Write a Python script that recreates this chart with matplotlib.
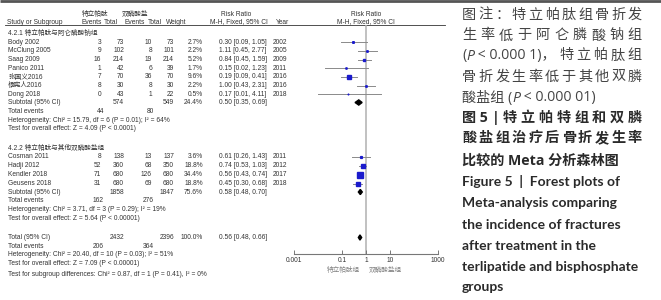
import matplotlib
matplotlib.use("Agg")
import matplotlib.pyplot as plt
import numpy as np

plt.rcParams['font.family'] = ['Liberation Sans', 'Noto Sans CJK SC']

# ---- data ----
group_titles = ['4.2.1 特立帕肽与阿仑膦酸钠组', '4.2.2 特立帕肽与其他双膦酸盐组']
studies = ['Body 2002', 'McClung 2005', 'Saag 2009', 'Panico 2011', '张国义2016',
           '杨宪人2016', 'Dong 2018', 'Cosman 2011', 'Hadji 2012', 'Kendler 2018',
           'Geusens 2018']
ev_tp = [3, 9, 16, 1, 7, 8, 0, 8, 52, 71, 31]
n_tp = [73, 102, 214, 42, 70, 30, 43, 138, 360, 680, 680]
ev_bp = [10, 8, 19, 6, 36, 8, 1, 13, 68, 126, 69]
n_bp = [73, 101, 214, 39, 70, 30, 22, 137, 350, 680, 680]
weight = [2.7, 2.2, 5.2, 1.7, 9.6, 2.2, 0.5, 3.6, 18.8, 34.4, 18.8]
rr = [0.30, 1.11, 0.84, 0.15, 0.19, 1.00, 0.17, 0.61, 0.74, 0.56, 0.45]
rr_lo = [0.09, 0.45, 0.45, 0.02, 0.09, 0.43, 0.01, 0.26, 0.53, 0.43, 0.30]
rr_hi = [1.05, 2.77, 1.59, 1.23, 0.41, 2.31, 4.11, 1.43, 1.03, 0.74, 0.68]
years = [2002, 2005, 2009, 2011, 2016, 2016, 2018, 2011, 2012, 2017, 2018]

pooled_names = ['Subtotal (95% CI)', 'Subtotal (95% CI)', 'Total (95% CI)']
pooled_n_tp = [574, 1858, 2432]
pooled_n_bp = [549, 1847, 2396]
pooled_weight = [24.4, 75.6, 100.0]
pooled_rr = [0.50, 0.58, 0.56]
pooled_lo = [0.35, 0.48, 0.48]
pooled_hi = [0.69, 0.70, 0.66]
pooled_ev_tp = [44, 162, 206]
pooled_ev_bp = [80, 276, 364]
heterogeneity = ['Heterogeneity: Chi² = 15.79, df = 6 (P = 0.01); I² = 64%',
                 'Heterogeneity: Chi² = 3.71, df = 3 (P = 0.29); I² = 19%',
                 'Heterogeneity: Chi² = 20.40, df = 10 (P = 0.03); I² = 51%']
overall = ['Test for overall effect: Z = 4.09 (P < 0.0001)',
           'Test for overall effect: Z = 5.64 (P < 0.00001)',
           'Test for overall effect: Z = 7.09 (P < 0.00001)']
subgroup_test = 'Test for subgroup differences: Chi² = 0.87, df = 1 (P = 0.41), I² = 0%'
ticks = [0.001, 0.1, 1, 10, 1000]
tick_labels = ['0.001', '0.1', '1', '10', '1000']
favours = ['特立帕肽组', '双膦酸盐组']

# ---- layout (pixel rows / columns) ----
group_y = [33, 148]
study_y = [42, 51, 59.5, 68, 77, 85.5, 94, 157, 165.5, 174.5, 183.5]
pooled_y = [102.5, 192, 237.5]
col = dict(name=8, ev1=101, n1=124, ev2=152, n2=174, w=203, rr=219, yr=273)
fs = 4.8
tc = '#333333'

fig = plt.figure(figsize=(6.61, 3.0), dpi=100)
bg = fig.add_axes([0, 0, 1, 1])
bg.set_xlim(0, 661)
bg.set_ylim(300, 0)
bg.axis('off')

bg.plot([0, 661], [1.3, 1.3], color='#555555', lw=2.0, solid_capstyle='butt')

# headers
for txt, x in [('特立帕肽', 95), ('双膦酸盐', 135), ('Risk Ratio', 236), ('Risk Ratio', 366)]:
    bg.text(x, 14, txt, ha='center', va='center', fontsize=fs, color=tc)
for txt, x, ha in [('Study or Subgroup', 7, 'left'), ('Events', 92, 'center'),
                   ('Total', 111, 'center'), ('Events', 135, 'center'),
                   ('Total', 155, 'center'), ('Weight', 176, 'center'),
                   ('M-H, Fixed, 95% CI', 210, 'left'), ('Year', 276, 'left'),
                   ('M-H, Fixed, 95% CI', 366, 'center')]:
    bg.text(x, 22, txt, ha=ha, va='center', fontsize=fs, color=tc)
bg.plot([5, 445], [24.8, 24.8], color='#333333', lw=0.6)

for t, y in zip(group_titles, group_y):
    bg.text(col['name'], y, t, va='center', fontsize=fs, color=tc)

for i, y in enumerate(study_y):
    bg.text(col['name'], y, studies[i], va='center', fontsize=fs, color=tc)
    bg.text(col['ev1'], y, str(ev_tp[i]), ha='right', va='center', fontsize=fs, color=tc)
    bg.text(col['n1'], y, str(n_tp[i]), ha='right', va='center', fontsize=fs, color=tc)
    bg.text(col['ev2'], y, str(ev_bp[i]), ha='right', va='center', fontsize=fs, color=tc)
    bg.text(col['n2'], y, str(n_bp[i]), ha='right', va='center', fontsize=fs, color=tc)
    bg.text(col['w'], y, f'{weight[i]:.1f}%', ha='right', va='center', fontsize=fs, color=tc)
    bg.text(col['rr'], y, f'{rr[i]:.2f} [{rr_lo[i]:.2f}, {rr_hi[i]:.2f}]',
            va='center', fontsize=fs, color=tc)
    bg.text(col['yr'], y, str(years[i]), va='center', fontsize=fs, color=tc)

for k, y in enumerate(pooled_y):
    bg.text(col['name'], y, pooled_names[k], va='center', fontsize=fs, color=tc)
    bg.text(col['n1'], y, str(pooled_n_tp[k]), ha='right', va='center', fontsize=fs, color=tc)
    bg.text(col['n2'], y, str(pooled_n_bp[k]), ha='right', va='center', fontsize=fs, color=tc)
    bg.text(col['w'], y, f'{pooled_weight[k]:.1f}%', ha='right', va='center', fontsize=fs, color=tc)
    bg.text(col['rr'], y, f'{pooled_rr[k]:.2f} [{pooled_lo[k]:.2f}, {pooled_hi[k]:.2f}]',
            va='center', fontsize=fs, color=tc)
    bg.text(col['name'], y + 8.7, 'Total events', va='center', fontsize=fs, color=tc)
    bg.text(col['ev1'] + 3, y + 8.7, str(pooled_ev_tp[k]), ha='right', va='center', fontsize=fs, color=tc)
    bg.text(col['ev2'] + 2, y + 8.7, str(pooled_ev_bp[k]), ha='right', va='center', fontsize=fs, color=tc)
    bg.text(col['name'], y + 17.5, heterogeneity[k], va='center', fontsize=fs, color=tc)
    bg.text(col['name'], y + 26.3, overall[k], va='center', fontsize=fs, color=tc)
bg.text(col['name'], pooled_y[2] + 37, subgroup_test, va='center', fontsize=fs, color=tc)

# forest panel: log x, y in the same pixel rows
fa = fig.add_axes([294 / 661, 1 - 254 / 300, (438 - 294) / 661, (254 - 25) / 300])
fa.set_xscale('log')
fa.set_xlim(0.001, 1000)
fa.set_ylim(254, 25)
fa.patch.set_alpha(0)
for s in ['top', 'left', 'right']:
    fa.spines[s].set_visible(False)
fa.spines['bottom'].set_color('#777777')
fa.spines['bottom'].set_linewidth(0.8)
fa.set_yticks([])
fa.set_xticks(ticks)
fa.set_xticklabels(tick_labels)
fa.minorticks_off()
fa.tick_params(axis='x', direction='in', length=3, width=0.7, color='#777777',
               labelsize=fs, labelcolor=tc, pad=2.5)
fa.axvline(1, color='#b0b0b0', lw=1.1, zorder=1)

for i, y in enumerate(study_y):
    fa.plot([rr_lo[i], rr_hi[i]], [y, y], color='#8a8a8a', lw=0.7, zorder=2)
    fa.plot(rr[i], y, marker='s', ms=0.97 * np.sqrt(weight[i]) * 0.72,
            color='#1a1acc', mec='#1a1acc', zorder=3)

for k, y in enumerate(pooled_y):
    fa.fill([pooled_lo[k], pooled_rr[k], pooled_hi[k], pooled_rr[k]],
            [y, y - 2.6, y, y + 2.6], color='black', zorder=3)

fa.text(0.55, 270, favours[0], ha='right', va='center', fontsize=fs, color='#808080',
        clip_on=False)
fa.text(1.25, 270, favours[1], ha='left', va='center', fontsize=fs, color='#808080',
        clip_on=False)

# caption on the right
renderer = fig.canvas.get_renderer()
cap_family = ['Open Sans', 'Noto Sans CJK SC']


def caption_line(tokens, y, spread=True, x0=462, x1=642, **kw):
    # each token is a string or a list of (text, extra style) pieces kept together
    units = []
    for tok in tokens:
        pieces = [(tok, {})] if isinstance(tok, str) else tok
        items = []
        for txt, extra in pieces:
            style = dict(kw)
            style.update(extra)
            items.append(bg.text(x0, y, txt, va='center', ha='left',
                                 family=cap_family, **style))
        units.append(items)
    widths = [[it.get_window_extent(renderer).width for it in u] for u in units]
    total = sum(sum(w) for w in widths)
    gap = (x1 - x0 - total) / (len(units) - 1) if spread and len(units) > 1 else 0
    x = x0
    for u, ws in zip(units, widths):
        for it, w in zip(u, ws):
            it.set_x(x)
            x += w
        x += gap


reg = dict(fontsize=10.2, color='#444444')
bold = dict(fontsize=10.2, color='#2a2a2a', fontweight='bold')
ital = {'style': 'italic'}
caption_line(list('图注：特立帕肽组骨折发'), 15, **reg)
caption_line(list('生率低于阿仑膦酸钠组'), 36, **reg)
caption_line([[('(', {}), ('P', ital), (' < 0.000 1)，', {})]] + list('特立帕肽组'), 56, **reg)
caption_line(list('骨折发生率低于其他双膦'), 77, **reg)
caption_line([[('酸盐组 (', {}), ('P', ital), (' < 0.000 01)', {})]], 98, spread=False, **reg)
caption_line(['图 5', '|'] + list('特立帕特组和双膦'), 118, **bold)
caption_line(list('酸盐组治疗后骨折发生率'), 138, **bold)
caption_line(['比较的 Meta 分析森林图'], 161, spread=False, **bold)
for line, y in zip(['Figure 5  |  Forest plots of', 'Meta-analysis comparing',
                    'the incidence of fractures', 'after treatment in the',
                    'terlipatide and bisphosphate', 'groups'],
                   [182, 203, 225, 246, 267, 287]):
    bg.text(462, y, line, va='center', ha='left', family=['Lato', 'DejaVu Sans'],
            fontsize=10.0, fontweight='bold', color='#2a2a2a')

fig.savefig('out.png', dpi=100)
